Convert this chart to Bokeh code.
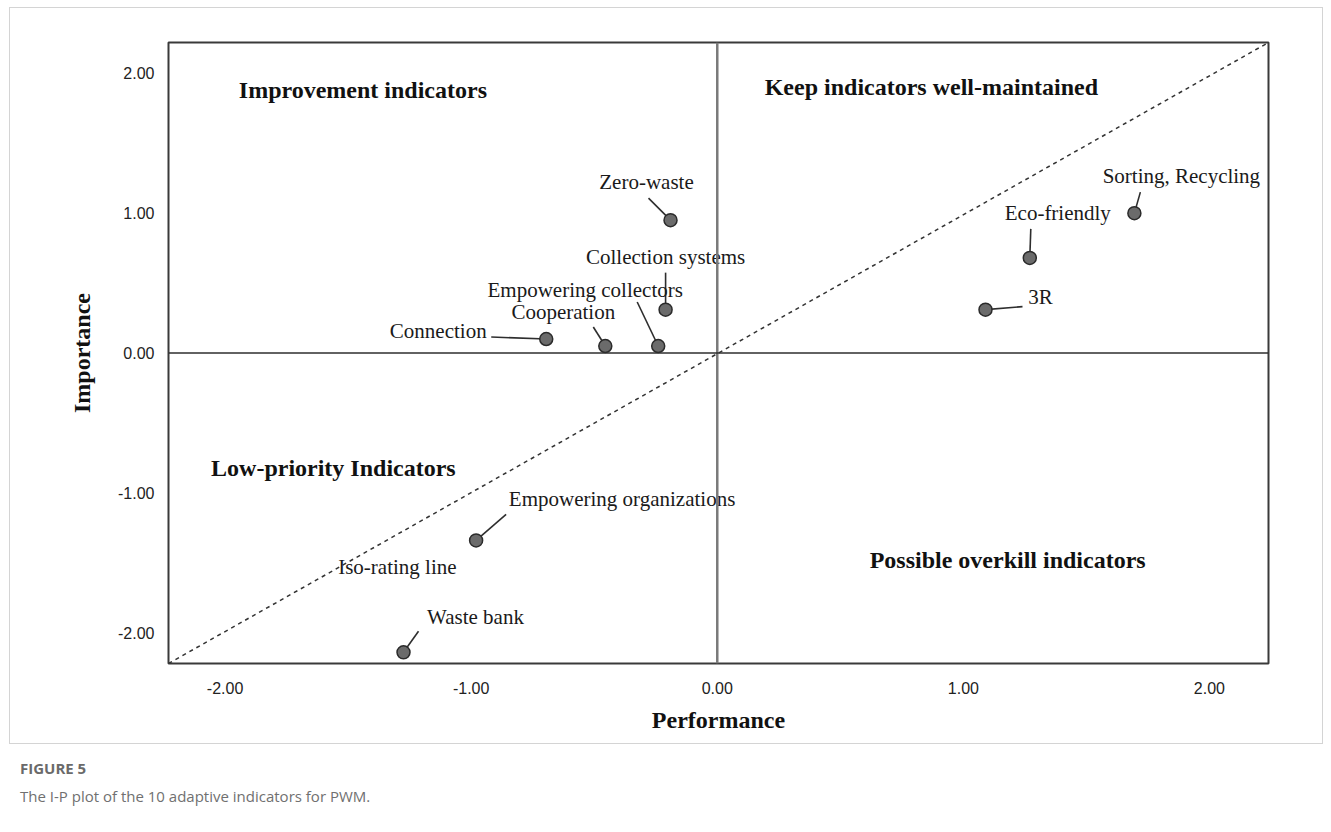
from bokeh.plotting import figure
from bokeh.models import ColumnDataSource, Span, Label, Div, Range1d, FixedTicker
from bokeh.layouts import column
from bokeh.embed import file_html
from bokeh.resources import INLINE
from bokeh.core.properties import value

# ---------------- data ----------------
indicators = ["Zero-waste", "Collection systems", "Empowering collectors", "Cooperation",
              "Connection", "Sorting, Recycling", "Eco-friendly", "3R",
              "Empowering organizations", "Waste bank"]
performance = [-0.19, -0.21, -0.24, -0.455, -0.695, 1.695, 1.27, 1.09, -0.98, -1.275]
importance = [0.95, 0.31, 0.05, 0.05, 0.10, 1.00, 0.68, 0.31, -1.34, -2.14]

tick_values = [-2, -1, 0, 1, 2]
tick_labels = ["-2.00", "-1.00", "0.00", "1.00", "2.00"]

quadrant_names = ["Improvement indicators", "Keep indicators well-maintained",
                  "Low-priority Indicators", "Possible overkill indicators"]
quadrant_x = [-1.44, 0.87, -1.56, 1.18]
quadrant_y = [1.88, 1.905, -0.82, -1.48]

# ---------------- layout / style ----------------
X0, X1 = -2.23, 2.24
Y0, Y1 = -2.22, 2.22
FRAME_W, FRAME_H = 1100, 621
XS = FRAME_W / (X1 - X0)
YS = FRAME_H / (Y1 - Y0)

# label offsets in screen pixels (dx right, dy up): text centre and leader end
text_dx = [-24, 0, -73, -42, -108, 47, 28, 55, 146, 72]
text_dy = [38, 53, 56, 34, 8, 37, 45, 13, 41, 35]
lead_dx = [-22, 0, -21, -12, -55, 6, 1, 37, 30, 15]
lead_dy = [22, 37, 44, 19, 2, 21, 29, 3, 26, 21]

SERIF = "Liberation Serif"

p = figure(width=1312, height=735, output_backend="svg", toolbar_location=None,
           x_range=Range1d(X0, X1), y_range=Range1d(Y0, Y1),
           min_border_left=158, min_border_right=54, min_border_top=34, min_border_bottom=80)
p.outline_line_color = "#3a3a3a"
p.outline_line_width = 2
p.grid.visible = False
p.background_fill_color = "white"
p.border_fill_color = "white"

for ax in (p.xaxis[0], p.yaxis[0]):
    ax.ticker = FixedTicker(ticks=tick_values)
    ax.major_label_overrides = {v: l for v, l in zip(tick_values, tick_labels)}
    ax.axis_line_color = None
    ax.major_tick_line_color = None
    ax.minor_tick_line_color = None
    ax.major_label_text_font = "Liberation Sans"
    ax.major_label_text_font_size = "16px"
    ax.major_label_text_color = "#222222"
    ax.axis_label_text_font = SERIF
    ax.axis_label_text_font_style = "bold"
    ax.axis_label_text_font_size = "24px"
    ax.axis_label_text_color = "#111111"
p.xaxis.axis_label = "Performance"
p.yaxis.axis_label = "Importance"
p.xaxis.major_label_standoff = 12
p.yaxis.major_label_standoff = 8
p.xaxis.axis_label_standoff = 10
p.yaxis.axis_label_standoff = 20

# zero lines
p.add_layout(Span(location=0, dimension="height", line_color="#7a7a7a", line_width=2.5))
p.add_layout(Span(location=0, dimension="width", line_color="#2e2e2e", line_width=1.5))

# iso-rating line (diagonal across the frame)
p.line(x=[X0, X1], y=[Y0, Y1], line_color="#333333", line_width=1.5, line_dash="4 4")

# leaders, markers, labels
src = ColumnDataSource(dict(
    x=performance, y=importance, name=indicators,
    lx=[x + dx / XS for x, dx in zip(performance, lead_dx)],
    ly=[y + dy / YS for y, dy in zip(importance, lead_dy)],
    tdx=text_dx, tdy=[-d for d in text_dy],
))
p.segment(x0="x", y0="y", x1="lx", y1="ly", source=src, line_color="#2e2e2e", line_width=1.6)
p.scatter(x="x", y="y", source=src, size=13, fill_color="#6b6b6b", line_color="#2b2b2b", line_width=1.5)
p.text(x="x", y="y", text="name", x_offset="tdx", y_offset="tdy", source=src,
       text_font=value(SERIF), text_font_size="21px", text_color="#1a1a1a",
       text_align="center", text_baseline="middle")

# quadrant labels
qsrc = ColumnDataSource(dict(x=quadrant_x, y=quadrant_y, t=quadrant_names))
p.text(x="x", y="y", text="t", source=qsrc, text_font=value(SERIF), text_font_style="bold",
       text_font_size="24px", text_color="#111111", text_align="center", text_baseline="middle")

p.add_layout(Label(x=-1.30, y=-1.53, text="Iso-rating line", text_font=SERIF,
                   text_font_size="21px", text_color="#1a1a1a",
                   text_align="center", text_baseline="middle"))

box = column(p, styles={"border": "1px solid #d4d4d4"}, margin=(7, 0, 0, 9))
cap = Div(text=(
    '<div style="font-family:\'Open Sans\',sans-serif;font-size:15px;color:#707070;line-height:28px;">'
    '<div style="font-weight:bold;color:#6a6a6a;">FIGURE 5</div>'
    '<div>The I-P plot of the 10 adaptive indicators for PWM.</div></div>'),
    width=1200, margin=(10, 0, 0, 20))
layout = column(box, cap)

open("out.html", "w").write(file_html(layout, INLINE))
